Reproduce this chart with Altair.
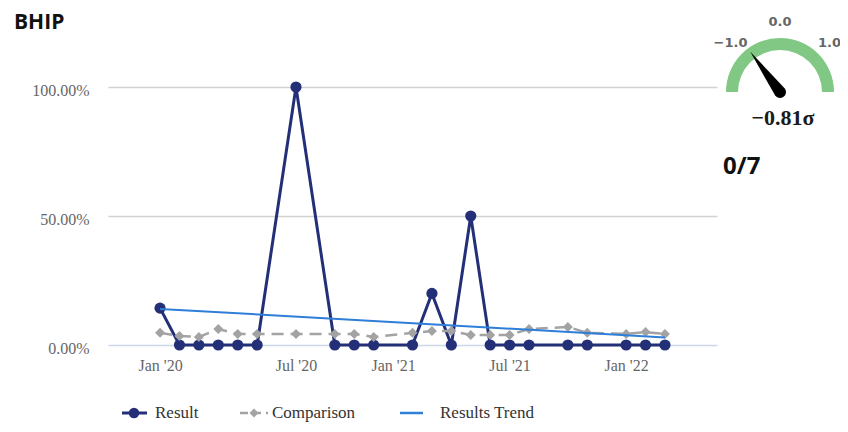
import math
import altair as alt
import pandas as pd

# ---------------- data ----------------
x_index = [0, 1, 2, 3, 4, 5, 7, 9, 10, 11, 13, 14, 15, 16, 17, 18, 19, 21, 22, 24, 25, 26]
result = [14.29, 0, 0, 0, 0, 0, 100, 0, 0, 0, 0, 20, 0, 50, 0, 0, 0, 0, 0, 0, 0, 0]
comparison = [4.7, 3.5, 3.1, 6.2, 4.3, 4.3, 4.3, 4.3, 4.3, 3.1, 4.7, 5.4, 5.4,
              3.9, 3.9, 3.9, 6.2, 7.0, 4.7, 4.3, 5.0, 4.3]
trend_x = [0, 26]
trend_y = [14.0, 2.9]
tick_pos = [0, 7, 12, 18, 24]
tick_labels = ["Jan '20", "Jul '20", "Jan '21", "Jul '21", "Jan '22"]
y_ticks = [0, 50, 100]
series_names = ["Result", "Comparison", "Results Trend"]
gauge_ticks = [-1.0, 0.0, 1.0]
gauge_range = [-2.0, 2.0]
gauge_value = -0.81
score_text = "0/7"
title_text = "BHIP"

# ---------------- layout / style ----------------
W, H = 609, 258
PAD = {"left": 100, "top": 79, "right": 123, "bottom": 79}
C_RES = "#233078"
C_CMP = "#a3a3a3"
C_TRD = "#2f7ed8"
SERIF = "Liberation Serif"
X_DOMAIN = [-2.68, 28.68]

main_df = pd.DataFrame({"idx": x_index, "result": result, "comparison": comparison})
trend_df = pd.DataFrame({"idx": trend_x, "trend": trend_y})

labels_js = "[" + ",".join('"%s"' % t for t in tick_labels) + "]"
pos_js = "[" + ",".join(str(p) for p in tick_pos) + "]"
x_label_expr = "%s[indexof(%s, datum.value)]" % (labels_js, pos_js)

x_scale = alt.Scale(domain=X_DOMAIN, nice=False, zero=False)
y_scale = alt.Scale(domain=[0, 100], nice=False)

x_axis = alt.Axis(values=tick_pos, labelExpr=x_label_expr, grid=False, ticks=False,
                  domain=False, labelFont=SERIF, labelFontSize=16, labelColor="#666666",
                  labelPadding=12, labelFlush=False, labelOverlap=False, title=None)
y_axis = alt.Axis(values=y_ticks, labelExpr="format(datum.value, '.2f') + '%'",
                  grid=True,
                  gridColor={"condition": {"test": "datum.value === 0", "value": "#ccd6eb"},
                             "value": "#d2d2d2"},
                  gridWidth=1.3, ticks=False, domain=False, labelFont=SERIF,
                  labelFontSize=16, labelColor="#666666", labelPadding=19,
                  labelOffset=3, title=None)


def xy(field):
    return dict(x=alt.X("idx:Q", scale=x_scale, axis=x_axis),
                y=alt.Y(field + ":Q", scale=y_scale, axis=y_axis))


base = alt.Chart(main_df)

res_line = base.mark_line(color=C_RES, strokeWidth=3).encode(**xy("result"))
res_pts = base.mark_point(shape="circle", filled=True, opacity=1, size=125,
                          color=C_RES).encode(**xy("result"))
cmp_line = base.mark_line(color=C_CMP, strokeWidth=2.5, strokeDash=[12, 7]).encode(
    **xy("comparison"))
cmp_pts = base.mark_point(shape="diamond", filled=True, opacity=1, size=100,
                          color=C_CMP).encode(**xy("comparison"))
trd_line = alt.Chart(trend_df).mark_line(color=C_TRD, strokeWidth=2).encode(**xy("trend"))

one = pd.DataFrame({"k": [0]})


def txt(text, x, y, **kw):
    return alt.Chart(one).mark_text(**kw).encode(
        x=alt.value(x), y=alt.value(y), text=alt.value(text))


# ---------------- title & score ----------------
title = txt(title_text, -94, -64, font="Open Sans", fontWeight="bold", fontSize=21,
            align="left", baseline="middle", color="#111111")
score = txt(score_text, 615, 80, font="Open Sans", fontWeight="bold", fontSize=24,
            align="left", baseline="middle", color="#111111")

# ---------------- gauge ----------------
CX, CY, R_OUT, R_IN, R_LAB = 672, 5, 54, 42, 70


def gauge_deg(v):
    lo, hi = gauge_range
    return (v - lo) / (hi - lo) * 180.0 - 90.0


arc = alt.Chart(one).mark_arc(
    theta=math.radians(gauge_deg(gauge_range[0]) + 360),
    theta2=math.radians(gauge_deg(gauge_range[1]) + 360),
    radius=R_OUT, radius2=R_IN, color="#80c883",
).encode(x=alt.value(CX), y=alt.value(CY))

gauge_labels = []
for t in gauge_ticks:
    a = math.radians(gauge_deg(t))
    lab = ("%.1f" % t).replace("-", "\u2212")
    gauge_labels.append(txt(lab, CX + R_LAB * math.sin(a), CY - R_LAB * math.cos(a),
                            font="DejaVu Sans", fontWeight="bold", fontSize=13,
                            color="#666666", align="center", baseline="middle"))

NEEDLE = "M-0.12,0 L0,-1 L0.12,0 A0.12,0.12 0 1 1 -0.12,0 Z"
needle = alt.Chart(one).mark_point(
    shape=NEEDLE, filled=True, opacity=1, color="#000000", size=10000,
    angle=(gauge_deg(gauge_value) + 360) % 360,
).encode(x=alt.value(CX), y=alt.value(CY))

value_txt = txt(("%.2f" % gauge_value).replace("-", "\u2212") + "\u03c3", CX + 3, 31,
                font=SERIF, fontWeight="bold", fontSize=22, color="#1a1a1a",
                align="center", baseline="middle")

# ---------------- legend ----------------
LY = 326
leg_sym = [(14, 39, 26), (132, 160, 146), (292, 315, None)]
leg_txt_x = [47, 164, 332]

leg = []
leg.append(alt.Chart(one).mark_rule(color=C_RES, strokeWidth=3).encode(
    x=alt.value(leg_sym[0][0]), x2=alt.value(leg_sym[0][1]), y=alt.value(LY)))
leg.append(alt.Chart(one).mark_point(shape="circle", filled=True, opacity=1, size=110,
                                     color=C_RES).encode(
    x=alt.value(leg_sym[0][2]), y=alt.value(LY)))
leg.append(alt.Chart(one).mark_rule(color=C_CMP, strokeWidth=2.5, strokeDash=[8, 5]).encode(
    x=alt.value(leg_sym[1][0]), x2=alt.value(leg_sym[1][1]), y=alt.value(LY)))
leg.append(alt.Chart(one).mark_point(shape="diamond", filled=True, opacity=1, size=80,
                                     color=C_CMP).encode(
    x=alt.value(leg_sym[1][2]), y=alt.value(LY)))
leg.append(alt.Chart(one).mark_rule(color=C_TRD, strokeWidth=2.5).encode(
    x=alt.value(leg_sym[2][0]), x2=alt.value(leg_sym[2][1]), y=alt.value(LY)))
for name, lx in zip(series_names, leg_txt_x):
    leg.append(txt(name, lx, LY, font=SERIF, fontSize=17, color="#333333",
                   align="left", baseline="middle"))

chart = alt.layer(
    res_line, res_pts, cmp_line, cmp_pts, trd_line,
    title, score, arc, *gauge_labels, needle, value_txt, *leg,
).properties(
    width=W, height=H, padding=PAD,
    autosize=alt.AutoSizeParams(type="none"),
    background="#ffffff",
).configure_view(stroke=None)

chart.save("out.html", embed_options={"renderer": "svg", "actions": False})
